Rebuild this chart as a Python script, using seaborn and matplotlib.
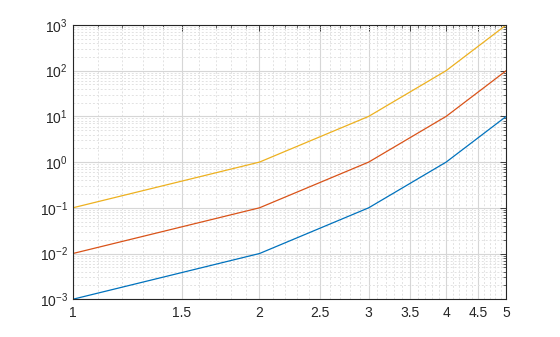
import numpy as np
import pandas as pd
import matplotlib
matplotlib.use("Agg")
import matplotlib.pyplot as plt
import matplotlib.ticker as mticker
import seaborn as sns

x = [1, 2, 3, 4, 5]
blue = [1e-3, 1e-2, 1e-1, 1, 10]
orange = [1e-2, 1e-1, 1, 10, 100]
yellow = [1e-1, 1, 10, 100, 1000]
series_names = ["s1", "s2", "s3"]
colors = ["#0072BD", "#D95319", "#EDB120"]
x_major = [1, 1.5, 2, 2.5, 3, 3.5, 4, 4.5, 5]
y_major = [1e-3, 1e-2, 1e-1, 1, 10, 100, 1000]

sns.set_style("white")
plt.rcParams["font.family"] = ["Liberation Sans", "DejaVu Sans"]
plt.rcParams["mathtext.default"] = "regular"

df = pd.DataFrame({
    "x": x * 3,
    "y": blue + orange + yellow,
    "s": sum([[n] * len(x) for n in series_names], []),
})

fig = plt.figure(figsize=(5.6, 3.37), dpi=100)
ax = fig.add_axes([0.13, 0.112, 0.774, 0.814])
sns.lineplot(data=df, x="x", y="y", hue="s", palette=colors, linewidth=0.9,
             legend=False, ax=ax)
ax.set_xscale("log")
ax.set_yscale("log")
ax.set_xlim(1, 5)
ax.set_ylim(1e-3, 1e3)
ax.set_xlabel(None)
ax.set_ylabel(None)

ax.xaxis.set_major_locator(mticker.FixedLocator(x_major))
ax.xaxis.set_major_formatter(mticker.FuncFormatter(lambda v, p: f"{v:g}"))
ax.xaxis.set_minor_locator(mticker.FixedLocator(np.arange(1.0, 5.001, 0.1)))
ax.xaxis.set_minor_formatter(mticker.NullFormatter())
ax.yaxis.set_major_locator(mticker.FixedLocator(y_major))
ax.yaxis.set_major_formatter(mticker.LogFormatterSciNotation())
ax.yaxis.set_minor_locator(mticker.FixedLocator(
    [m * d for d in y_major[:-1] for m in range(2, 10)]))
ax.yaxis.set_minor_formatter(mticker.NullFormatter())

ax.grid(True, which="major", color="#d6d6d6", linewidth=0.8, linestyle="-")
ax.grid(True, which="minor", color="#e2e2e2", linewidth=0.7, linestyle=(0, (2, 2)))
ax.set_axisbelow(True)

for sp in ax.spines.values():
    sp.set_visible(True)
    sp.set_color("#262626")
    sp.set_linewidth(0.8)
ax.tick_params(which="both", direction="in", top=True, right=True,
               colors="#262626", labelsize=10, labelcolor="#262626")
ax.tick_params(which="major", length=4, width=0.6)
ax.tick_params(which="minor", length=2, width=0.5)
ax.tick_params(axis="x", pad=5)

fig.savefig("out.png", dpi=100)
